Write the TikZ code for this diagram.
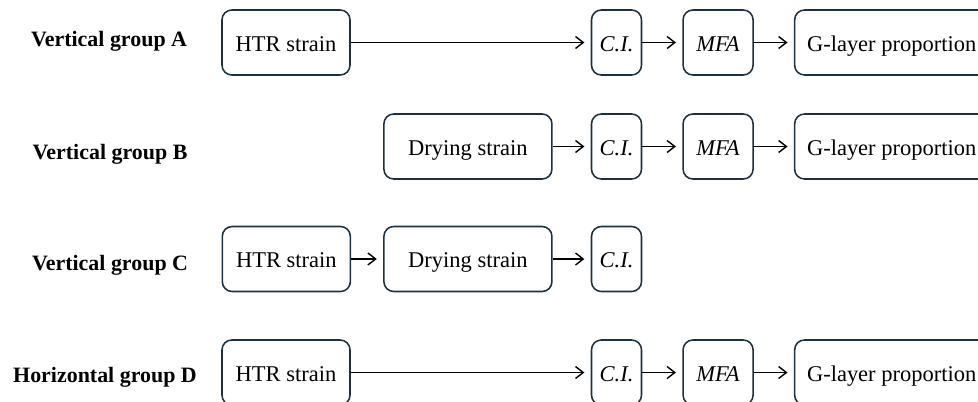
\documentclass[tikz,border=0pt]{standalone}
\usepackage{fontspec}
\setmainfont{Liberation Serif}
\usepackage{tikz}
\usetikzlibrary{positioning,arrows.meta}
\usepackage{xcolor}
\definecolor{boxline}{RGB}{28,48,64}

\begin{document}
\begin{tikzpicture}[
    x=0.025cm, y=-0.025cm,
    node distance=1cm,
    box/.style={rectangle, draw=boxline, line width=1.1pt, rounded corners=7pt, minimum height=1.625cm, inner xsep=3pt, text height=12.2pt, text depth=0pt, align=center, font=\fontsize{16}{19}\selectfont},
    grouplabel/.style={anchor=base, font=\fontsize{15.6}{19}\selectfont\bfseries},
    arrow/.style={-{Straight Barb[length=5.5pt,width=8.5pt]}, line width=1pt, shorten >=4.5pt}
]
\clip (0,0) rectangle (978,401);

% Vertical group A
\node[grouplabel] (labA) at (109,46) {Vertical group A};
\node[box, minimum width=3.2cm] (htrA) at (286,42.5) {HTR strain};
\node[box, minimum width=1.25cm] (ciA) at (616.5,42.5) {\textit{C.I.}};
\node[box, minimum width=1.75cm, right=of ciA] (mfaA) {\textit{MFA}};
\node[box, minimum width=4.85cm, right=of mfaA] (gA) {G-layer proportion};

% Vertical group B
\node[grouplabel] (labB) at (110,159) {Vertical group B};
\node[box, minimum width=1.25cm] (ciB) at (616.5,146.5) {\textit{C.I.}};
\node[box, minimum width=4.2cm, left=0.95cm of ciB] (dryB) {Drying strain};
\node[box, minimum width=1.75cm, right=of ciB] (mfaB) {\textit{MFA}};
\node[box, minimum width=4.85cm, right=of mfaB] (gB) {G-layer proportion};

% Vertical group C
\node[grouplabel] (labC) at (110,270) {Vertical group C};
\node[box, minimum width=1.25cm] (ciC) at (616.5,259) {\textit{C.I.}};
\node[box, minimum width=4.2cm, left=0.95cm of ciC] (dryC) {Drying strain};
\node[box, minimum width=3.2cm, left=0.8cm of dryC] (htrC) {HTR strain};

% Horizontal group D
\node[grouplabel] (labD) at (105,382) {Horizontal group D};
\node[box, minimum width=3.2cm] (htrD) at (286,372.5) {HTR strain};
\node[box, minimum width=1.25cm] (ciD) at (616.5,372.5) {\textit{C.I.}};
\node[box, minimum width=1.75cm, right=of ciD] (mfaD) {\textit{MFA}};
\node[box, minimum width=4.85cm, right=of mfaD] (gD) {G-layer proportion};

% Flow
\draw[arrow] (htrA) -- (ciA);
\draw[arrow] (ciA) -- (mfaA);
\draw[arrow] (mfaA) -- (gA);
\draw[arrow] (dryB) -- (ciB);
\draw[arrow] (ciB) -- (mfaB);
\draw[arrow] (mfaB) -- (gB);
\draw[arrow] (htrC) -- (dryC);
\draw[arrow] (dryC) -- (ciC);
\draw[arrow] (htrD) -- (ciD);
\draw[arrow] (ciD) -- (mfaD);
\draw[arrow] (mfaD) -- (gD);
\end{tikzpicture}
\end{document}
